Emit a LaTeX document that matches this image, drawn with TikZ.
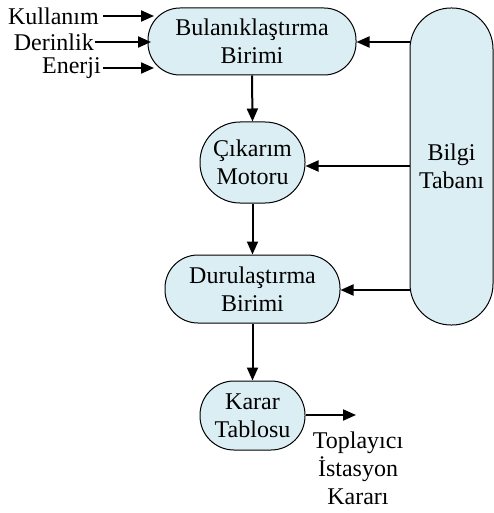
\documentclass[tikz,border=0pt]{standalone}
\usepackage{fontspec}
\setmainfont{Liberation Serif}
\usetikzlibrary{arrows.meta}
\definecolor{boxfill}{RGB}{219,238,244}
\tikzset{
  unit/.style={draw=black, line width=1pt, fill=boxfill, inner sep=0pt, align=center,
    font=\fontsize{24}{28}\selectfont},
  lbl/.style={inner sep=0pt, align=center, font=\fontsize{24}{28}\selectfont},
  flow/.style={line width=2pt, -{Triangle[length=13pt,width=11pt]}}
}
\begin{document}
\begin{tikzpicture}[x=1pt,y=-1pt]
\useasboundingbox (0,0) rectangle (493,513);
% processing blocks
\node[unit, minimum width=208pt, minimum height=67pt, rounded corners=32pt] (fuz) at (252,41.5) {Bulanıklaştırma\\Birimi};
\node[unit, minimum width=105pt, minimum height=81pt, rounded corners=40pt] (inf) at (252.5,162.5) {Çıkarım\\Motoru};
\node[unit, minimum width=175pt, minimum height=68pt, rounded corners=33pt] (def) at (252.5,289) {Durulaştırma\\Birimi};
\node[unit, minimum width=105pt, minimum height=69pt, rounded corners=34pt] (dec) at (252.5,415.5) {Karar\\Tablosu};
\node[unit, minimum width=83pt, minimum height=317pt, rounded corners=41pt] (kb) at (451.5,166.5) {Bilgi\\Tabanı};
% inputs
\node[lbl, anchor=east] (in1) at (99,16) {Kullanım};
\node[lbl, anchor=east] (in2) at (94,42) {Derinlik};
\node[lbl, anchor=east] (in3) at (101,68) {Enerji};
\coordinate (t1) at (154,16);
\coordinate (t2) at (151,42);
\coordinate (t3) at (154,68);
\draw[flow] (in1.east) ++(4,0) -- (t1);
\draw[flow] (in2.east) ++(1,0) -- (t2);
\draw[flow] (in3.east) ++(2,0) -- (t3);
% main chain
\draw[flow] (fuz.south) -- (inf.north);
\draw[flow] (inf.south) -- (def.north);
\draw[flow] (def.south) -- (dec.north);
% knowledge base links
\draw[flow] (kb.west |- 0,42) -- (fuz.east |- 0,42);
\draw[flow] (kb.west |- 0,166) -- (inf.east |- 0,166);
\draw[flow] (kb.west |- 0,290) -- (def.east |- 0,290);
% output
\node[lbl] (out) at (358,468) {Toplayıcı\\İstasyon\\Kararı};
\coordinate (oe) at (356,415);
\draw[flow] (dec.east |- oe) -- (oe);
\end{tikzpicture}
\end{document}
